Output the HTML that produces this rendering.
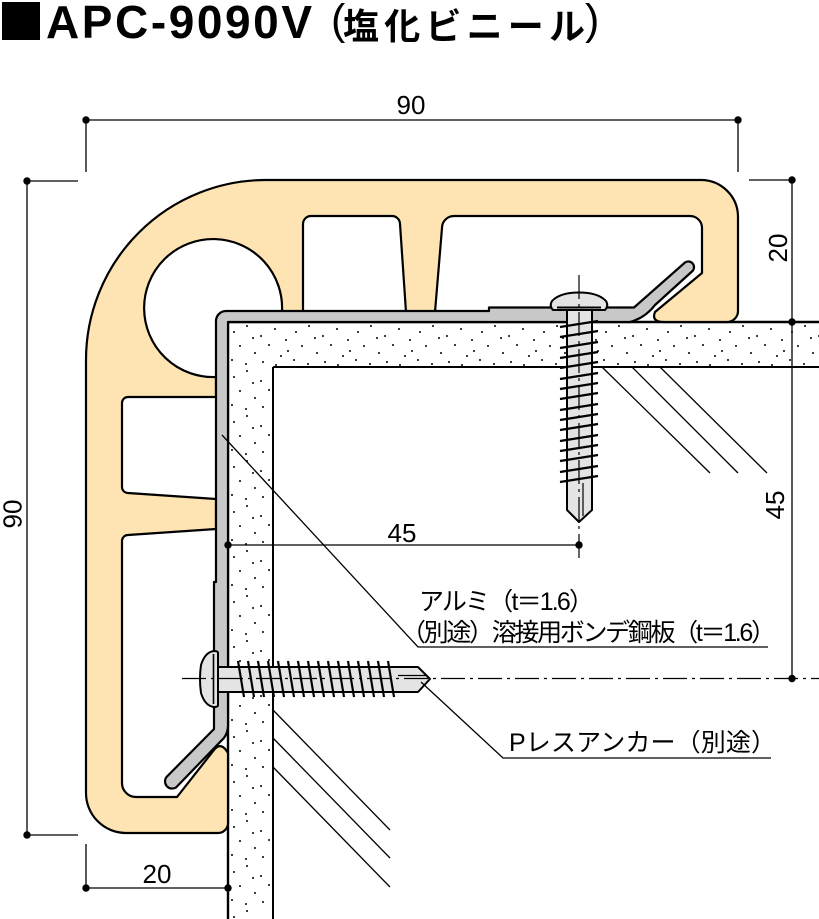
<!DOCTYPE html>
<html><head><meta charset="utf-8"><style>
html,body{margin:0;padding:0;background:#fff;}
body{width:819px;height:919px;overflow:hidden;}
svg{display:block;}
</style></head><body>
<svg width="819" height="919" viewBox="0 0 819 919" xmlns="http://www.w3.org/2000/svg">
<defs>
<pattern id="dots" x="228" y="322" width="62" height="45" patternUnits="userSpaceOnUse">
<rect width="62" height="45" fill="#fff"/>
<g fill="#000">
<circle cx="6" cy="10" r="1"/><circle cx="19" cy="4" r="1"/><circle cx="33" cy="14" r="1"/>
<circle cx="47" cy="7" r="1"/><circle cx="58" cy="18" r="1"/><circle cx="12" cy="24" r="1"/>
<circle cx="27" cy="31" r="1"/><circle cx="41" cy="23" r="1"/><circle cx="53" cy="34" r="1"/>
<circle cx="4" cy="38" r="1"/><circle cx="18" cy="42" r="1"/><circle cx="35" cy="40" r="1"/>
<circle cx="48" cy="43" r="1"/><circle cx="25" cy="16" r="1"/><circle cx="60" cy="29" r="1"/>
</g>
</pattern>
</defs>

<!-- Title -->
<rect x="2" y="2" width="38" height="38" fill="#000"/>
<text x="46" y="38" font-family="'Liberation Sans', sans-serif" font-weight="bold" font-size="46" textLength="266" lengthAdjust="spacing">APC-9090V</text>
<text x="331" y="34" font-family="'Liberation Sans', sans-serif" font-size="43">(</text>
<text x="343" y="39" font-family="'Liberation Sans','Noto Sans CJK JP',sans-serif" font-weight="bold" font-size="36" textLength="242" lengthAdjust="spacing">塩化ビニール</text>
<text x="585" y="34" font-family="'Liberation Sans', sans-serif" font-size="43">)</text>

<!-- Board -->
<path d="M228,322 H819 V367 H273 V919 H228 Z" fill="url(#dots)"/>
<g stroke="#000" fill="none">
<line x1="228" y1="322" x2="819" y2="322" stroke-width="2.4"/>
<line x1="228" y1="322" x2="228" y2="919" stroke-width="2.4"/>
<line x1="273" y1="367" x2="819" y2="367" stroke-width="2"/>
<line x1="273" y1="367" x2="273" y2="919" stroke-width="2"/>
</g>

<!-- Hatch lines -->
<g stroke="#000" stroke-width="1.3">
<line x1="602" y1="367" x2="710" y2="473"/>
<line x1="632" y1="367" x2="738" y2="473"/>
<line x1="660" y1="367" x2="767" y2="473"/>
<line x1="273" y1="710" x2="390" y2="830"/>
<line x1="273" y1="738" x2="390" y2="858"/>
<line x1="273" y1="767" x2="390" y2="887"/>
</g>

<!-- PVC profile -->
<path d="M86,360 A180,180 0 0 1 266,180 L701,180 A37,37 0 0 1 738,217 L738,311 A11,11 0 0 1 727,322 L664,322 Q651,322 655,312 L702,273 L702,228 A12,12 0 0 0 690,216 L454,216 A12,12 0 0 0 442,228 L435,312 L406,312 L400,224 A8,8 0 0 0 392,216 L311,216 A8,8 0 0 0 303,224 L303,312 L282,312 A69,69 0 1 0 216,377 L216,397 L128,397 A6,6 0 0 0 122,403 L122,487 A6,6 0 0 0 128,493 L216,499 L216,529 L128,535 A6,6 0 0 0 122,541 L122,783 A14,14 0 0 0 136,797 L177,797 L214,750 Q221,741 228,753 L228,823 A10,10 0 0 1 218,833 L126,833 A40,40 0 0 1 86,793 Z" fill="#FEE4B2" stroke="#000" stroke-width="2.2" stroke-linejoin="round"/>

<!-- Aluminium angle -->
<path d="M216,582 L216,321 A10,10 0 0 1 226,311 L489,311 L489,307.5 L634,307.5 L685,262.5 A5.7,5.7 0 0 1 692.5,271 L655,305 Q645,318 630,322 L228,322 L228,725 Q228,735 221,741 L176,787.5 A7.2,7.2 0 0 1 166.5,777 L214,729 L214,582 Z" fill="#C8C8C8" stroke="#000" stroke-width="2.2" stroke-linejoin="round"/>

<!-- Top screw -->
<g stroke="#000" stroke-width="2" fill="#E4E4E4" stroke-linejoin="round">
<path d="M567,310 V510 L579,522 L592,510 V310 Z"/>
<path d="M553,310 Q549,306 552,301 Q560,292.5 579,292.5 Q598,292.5 606,301 Q609,306 605,310 Z"/>
</g>
<line x1="557" y1="307.5" x2="601" y2="307.5" stroke="#000" stroke-width="2"/>
<line x1="583" y1="483" x2="583" y2="516" stroke="#000" stroke-width="1.2"/>
<g stroke="#000" stroke-width="2.2">
<line x1="560" y1="327" x2="598" y2="321"/>
<line x1="560" y1="337" x2="598" y2="331"/>
<line x1="560" y1="348" x2="598" y2="342"/>
<line x1="560" y1="358" x2="598" y2="352"/>
<line x1="560" y1="368" x2="598" y2="362"/>
<line x1="560" y1="379" x2="598" y2="373"/>
<line x1="560" y1="389" x2="598" y2="383"/>
<line x1="560" y1="399" x2="598" y2="393"/>
<line x1="560" y1="410" x2="598" y2="404"/>
<line x1="560" y1="420" x2="598" y2="414"/>
<line x1="560" y1="430" x2="598" y2="424"/>
<line x1="560" y1="441" x2="598" y2="435"/>
<line x1="560" y1="451" x2="598" y2="445"/>
<line x1="560" y1="461" x2="598" y2="455"/>
<line x1="560" y1="472" x2="598" y2="466"/>
<line x1="560" y1="482" x2="598" y2="476"/>
</g>

<!-- Left screw -->
<g stroke="#000" stroke-width="2" fill="#E4E4E4" stroke-linejoin="round">
<path d="M218,667 H418 L430,679 L418,692 H218 Z"/>
<path d="M218,653 Q218,651 214,651 Q205,652 201,665 Q199,679 201,693 Q205,706 214,707 Q218,707 218,705 Z"/>
</g>
<line x1="213.5" y1="654" x2="213.5" y2="704" stroke="#000" stroke-width="1.6"/>
<line x1="398" y1="675.5" x2="426" y2="675.5" stroke="#000" stroke-width="1.2"/>
<g stroke="#000" stroke-width="2.2">
<line x1="238" y1="661" x2="244" y2="697"/>
<line x1="248" y1="661" x2="254" y2="697"/>
<line x1="258" y1="661" x2="264" y2="697"/>
<line x1="268" y1="661" x2="274" y2="697"/>
<line x1="278" y1="661" x2="284" y2="697"/>
<line x1="288" y1="661" x2="294" y2="697"/>
<line x1="298" y1="661" x2="304" y2="697"/>
<line x1="308" y1="661" x2="314" y2="697"/>
<line x1="318" y1="661" x2="324" y2="697"/>
<line x1="328" y1="661" x2="334" y2="697"/>
<line x1="338" y1="661" x2="344" y2="697"/>
<line x1="348" y1="661" x2="354" y2="697"/>
<line x1="358" y1="661" x2="364" y2="697"/>
<line x1="368" y1="661" x2="374" y2="697"/>
<line x1="378" y1="661" x2="384" y2="697"/>
<line x1="388" y1="661" x2="394" y2="697"/>
</g>

<!-- Centre lines -->
<g stroke="#000" stroke-width="1.2" fill="none">
<line x1="182" y1="678.5" x2="819" y2="678.5" stroke-dasharray="24 5 3 5"/>
<line x1="579" y1="275" x2="579" y2="563" stroke-dasharray="24 5 3 5"/>
</g>

<!-- Dimension lines -->
<g stroke="#000" stroke-width="1.3" fill="none">
<line x1="86" y1="120" x2="738" y2="120"/>
<line x1="86" y1="120" x2="86" y2="172"/>
<line x1="738" y1="120" x2="738" y2="172"/>
<line x1="27" y1="181" x2="27" y2="835"/>
<line x1="27" y1="181" x2="78" y2="181"/>
<line x1="27" y1="835" x2="78" y2="835"/>
<line x1="792" y1="180" x2="792" y2="678.5"/>
<line x1="749" y1="180" x2="792" y2="180"/>
<line x1="228" y1="545" x2="579" y2="545"/>
<line x1="86" y1="888" x2="228" y2="888"/>
<line x1="86" y1="844" x2="86" y2="888"/>
<!-- leaders -->
<polyline points="222,435 418,647 768,647"/>
<polyline points="421,682 503,758 771,758"/>
</g>
<g fill="#000">
<circle cx="86" cy="120" r="3.7"/><circle cx="738" cy="120" r="3.7"/>
<circle cx="27" cy="181" r="3.7"/><circle cx="27" cy="835" r="3.7"/>
<circle cx="792" cy="180" r="3.7"/><circle cx="792" cy="322" r="3.7"/><circle cx="792" cy="678.5" r="3.7"/>
<circle cx="228" cy="545" r="3.7"/><circle cx="579" cy="545" r="3.7"/>
<circle cx="86" cy="888" r="3.7"/><circle cx="228" cy="888" r="3.7"/>
</g>

<!-- Dimension texts -->
<g font-family="'Liberation Sans', sans-serif" font-size="26" fill="#000" text-anchor="middle">
<text x="411" y="114">90</text>
<text x="402" y="542">45</text>
<text x="157" y="883">20</text>
<text transform="translate(12,514) rotate(-90)" x="0" y="9.3">90</text>
<text transform="translate(777.5,248) rotate(-90)" x="0" y="9.3">20</text>
<text transform="translate(774.5,505) rotate(-90)" x="0" y="9.3">45</text>
</g>

<!-- Labels -->
<g font-family="'Liberation Sans','Noto Sans CJK JP',sans-serif" font-size="25" fill="#000">
<text x="419" y="610" textLength="175" lengthAdjust="spacing">アルミ（t＝1.6）</text>
<text x="401" y="641" textLength="375" lengthAdjust="spacing">（別途）溶接用ボンデ鋼板（t＝1.6）</text>
<text x="509" y="751" textLength="267" lengthAdjust="spacing">Pレスアンカー（別途）</text>
</g>
</svg>
</body></html>
